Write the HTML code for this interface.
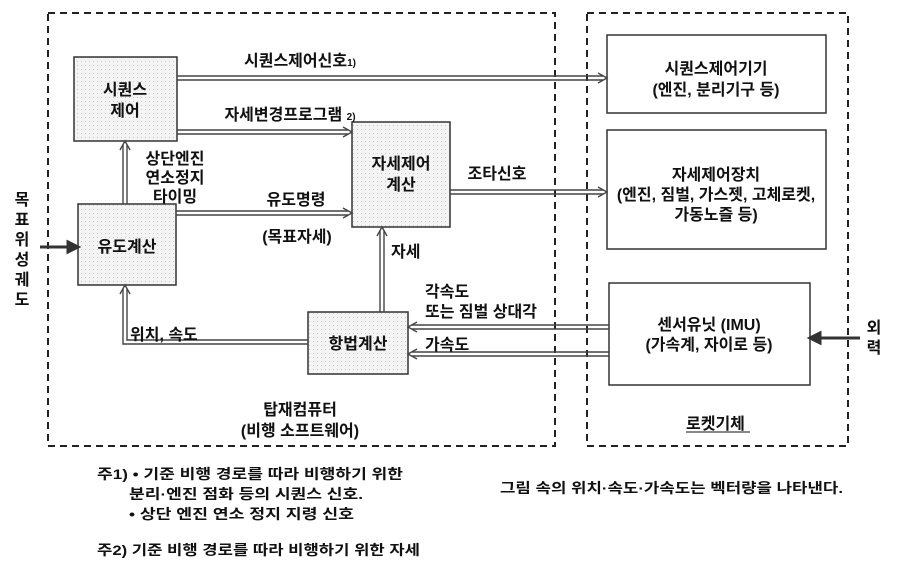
<!DOCTYPE html>
<html><head><meta charset="utf-8"><style>
html,body{margin:0;padding:0;background:#fff}
svg text{font-family:"Liberation Sans","Noto Sans CJK KR",sans-serif;fill:#111;font-weight:bold}
</style></head><body>
<svg width="901" height="574" viewBox="0 0 901 574" xmlns="http://www.w3.org/2000/svg">
<defs>
<pattern id="dots" width="4" height="4" patternUnits="userSpaceOnUse"><rect width="4" height="4" fill="#f4f4f4"/><rect x="1" y="1" width="1" height="1" fill="#c8c8c8"/></pattern>
</defs>
<g fill="none" stroke="#222" stroke-width="2" stroke-dasharray="7,5">
<rect x="48" y="13" width="507" height="433"/>
<rect x="587" y="13" width="261" height="433"/>
</g>
<g stroke="#333" stroke-width="1.5">
<rect x="74" y="57" width="103" height="84" fill="url(#dots)"/>
<rect x="78" y="204" width="98" height="81" fill="url(#dots)"/>
<rect x="352" y="122" width="98" height="105" fill="url(#dots)"/>
<rect x="308" y="312" width="100" height="62" fill="url(#dots)"/>
<rect x="607" y="35" width="219" height="78" fill="#fff"/>
<rect x="607" y="130" width="219" height="119" fill="#fff"/>
<rect x="609" y="283" width="201" height="102" fill="#fff"/>
</g>
<g fill="none" stroke="#444" stroke-width="1.4">
<line x1="177" y1="76" x2="603" y2="76"/><line x1="177" y1="80" x2="603" y2="80"/><polyline points="598,73 607,78 598,83"/>
<line x1="177" y1="130" x2="348" y2="130"/><line x1="177" y1="134" x2="348" y2="134"/><polyline points="343,127 352,132 343,137"/>
<line x1="176" y1="211" x2="348" y2="211"/><line x1="176" y1="215" x2="348" y2="215"/><polyline points="343,208 352,213 343,218"/>
<line x1="450" y1="190" x2="603" y2="190"/><line x1="450" y1="194" x2="603" y2="194"/><polyline points="598,187 607,192 598,197"/>
<line x1="123" y1="204" x2="123" y2="145"/><line x1="127" y1="204" x2="127" y2="145"/><polyline points="120,150 125,141 130,150"/>
<line x1="380" y1="312" x2="380" y2="231"/><line x1="384" y1="312" x2="384" y2="231"/><polyline points="377,236 382,227 387,236"/>
<line x1="609" y1="325" x2="412" y2="325"/><line x1="609" y1="329" x2="412" y2="329"/><polyline points="417,322 408,327 417,332"/>
<line x1="609" y1="352" x2="412" y2="352"/><line x1="609" y1="356" x2="412" y2="356"/><polyline points="417,349 408,354 417,359"/>
<polyline points="308,340 127,340 127,289"/><polyline points="308,344 123,344 123,289"/><polyline points="120,294 125,285 130,294"/>
</g>
<g stroke="#333" stroke-width="3" fill="#333">
<line x1="40" y1="247" x2="70" y2="247"/><polygon points="68,242 78,247 68,252"/>
<line x1="860" y1="338" x2="820" y2="338"/><polygon points="820,333 810,338 820,343"/>
</g>
<g font-size="16" text-anchor="middle">
<text x="125" y="95">시퀀스</text><text x="125" y="116">제어</text>
<text x="127" y="252">유도계산</text>
<text x="401" y="169">자세제어</text><text x="401" y="190">계산</text>
<text x="358" y="349">항법계산</text>
<text x="716" y="74">시퀀스제어기기</text><text x="716" y="95">(엔진, 분리기구 등)</text>
<text x="716" y="180">자세제어장치</text><text x="716" y="200">(엔진, 짐벌, 가스젯, 고체로켓,</text><text x="716" y="220">가동노즐 등)</text>
<text x="709" y="330">센서유닛 (IMU)</text><text x="709" y="350">(가속계, 자이로 등)</text>
<text x="300" y="66">시퀀스제어신호<tspan font-size="10">1)</tspan></text>
<text x="290" y="120">자세변경프로그램 <tspan font-size="10">2)</tspan></text>
<text x="175" y="164">상단엔진</text><text x="175" y="183">연소정지</text><text x="175" y="202">타이밍</text>
<text x="296" y="205">유도명령</text>
<text x="297" y="242">(목표자세)</text>
<text x="497" y="179">조타신호</text>
<text x="300" y="415">탑재컴퓨터</text><text x="300" y="436">(비행 소프트웨어)</text>
<text x="22" y="205">목</text><text x="22" y="225">표</text><text x="22" y="245">위</text><text x="22" y="265">성</text><text x="22" y="285">궤</text><text x="22" y="305">도</text>
<text x="874" y="333">외</text><text x="874" y="353">력</text>
</g>
<g font-size="16">
<text x="391" y="257">자세</text>
<text x="425" y="297">각속도</text>
<text x="425" y="317">또는 짐벌 상대각</text>
<text x="425" y="350">가속도</text>
<text x="130" y="340">위치, 속도</text>
<text x="686" y="429">로켓기체</text>
</g>
<line x1="686" y1="432" x2="750" y2="432" stroke="#111" stroke-width="1"/>
<g font-size="14">
<text x="97" y="479" textLength="306" lengthAdjust="spacingAndGlyphs">주1) • 기준 비행 경로를 따라 비행하기 위한</text>
<text x="129" y="499" textLength="234" lengthAdjust="spacingAndGlyphs">분리·엔진 점화 등의 시퀀스 신호.</text>
<text x="129" y="519" textLength="225" lengthAdjust="spacingAndGlyphs">• 상단 엔진 연소 정지 지령 신호</text>
<text x="97" y="555" textLength="323" lengthAdjust="spacingAndGlyphs">주2) 기준 비행 경로를 따라 비행하기 위한 자세</text>
<text x="500" y="493" textLength="343" lengthAdjust="spacingAndGlyphs">그림 속의 위치·속도·가속도는 벡터량을 나타낸다.</text>
</g>
</svg>
</body></html>
